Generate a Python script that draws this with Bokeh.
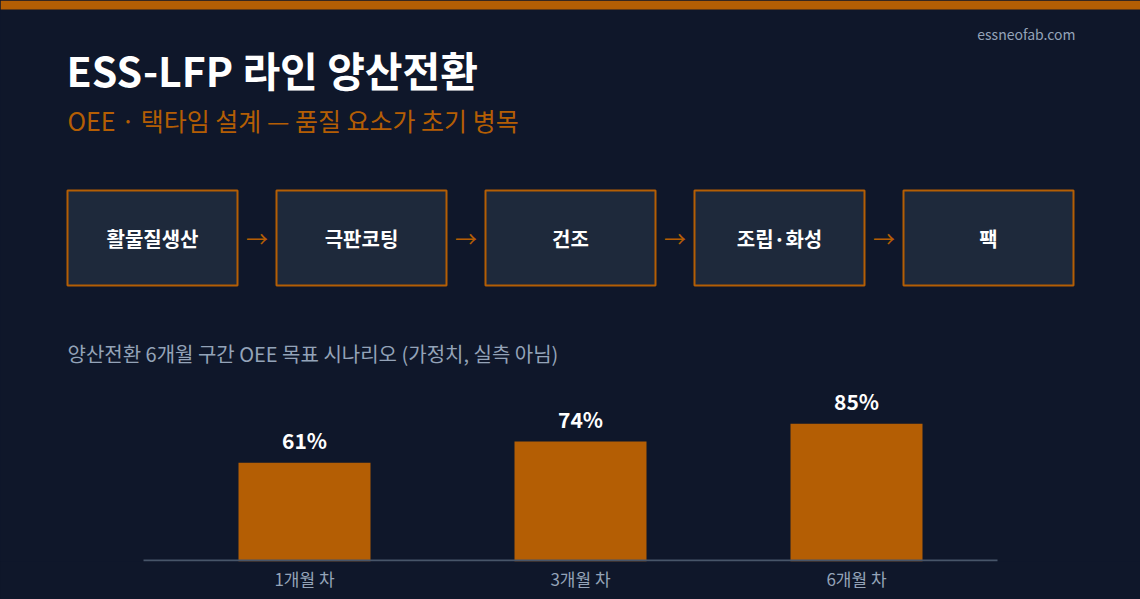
from bokeh.plotting import figure
from bokeh.models import Range1d, LinearAxis, FixedTicker, GlobalInlineStyleSheet
from bokeh.core.properties import value
from bokeh.embed import file_html
from bokeh.resources import INLINE

# ---------------- data ----------------
title = "ESS-LFP 라인 양산전환"
subtitle = "OEE · 택타임 설계 — 품질 요소가 초기 병목"
site = "essneofab.com"
steps = ["활물질생산", "극판코팅", "건조", "조립·화성", "팩"]
chart_caption = "양산전환 6개월 구간 OEE 목표 시나리오 (가정치, 실측 아님)"
periods = ["1개월 차", "3개월 차", "6개월 차"]
oee = [61, 74, 85]

# ---------------- style / layout ----------------
W, H = 1140, 599
BG = "#0f172a"
ORANGE = "#b45e04"
BOX = "#1e293b"
MUTED = "#94a3b8"
AXIS = "#475569"
KR = "Noto Sans CJK KR"

BASE_Y = 561          # pixel row of the zero line
PX_PER = 1.62         # pixels per OEE percent
BAR_X0, BAR_STEP, BAR_W = 304, 276, 132

BOX_X0, BOX_W, BOX_GAP = 67, 170, 39
BOX_TOP, BOX_BOT = 190, 285

p = figure(width=W, height=H, output_backend="svg", toolbar_location=None,
           x_range=Range1d(-BAR_X0 / BAR_STEP, (W - BAR_X0) / BAR_STEP),
           y_range=Range1d(0, BASE_Y / PX_PER),
           x_axis_location=None, y_axis_location=None,
           min_border_left=0, min_border_right=0, min_border_top=0,
           min_border_bottom=H - BASE_Y)
p.extra_x_ranges = {"px": Range1d(0, W)}
p.extra_y_ranges = {"px": Range1d(BASE_Y, 0)}
p.background_fill_color = BG
p.border_fill_color = BG
p.outline_line_color = None
p.grid.visible = False
p.stylesheets = [GlobalInlineStyleSheet(css="html,body{margin:0;padding:0;background:#0f172a;overflow:hidden;}")]

PX = dict(x_range_name="px", y_range_name="px")

# top accent bar
p.quad(left=[0], right=[W], top=[0], bottom=[9], fill_color=ORANGE, line_color=None, **PX)

# header texts
p.text(x=[66], y=[68], text=[title], text_font=value(KR), text_font_size="41px",
       text_font_style="bold", text_color="#ffffff", text_baseline="middle", **PX)
p.text(x=[67], y=[119], text=[subtitle], text_font=value(KR), text_font_size="25px",
       text_color=ORANGE, text_baseline="middle", **PX)
p.text(x=[1075], y=[33], text=[site], text_font=value(KR), text_font_size="14px",
       text_color=MUTED, text_align="right", text_baseline="middle", **PX)

# process flow boxes
lefts = [BOX_X0 + i * (BOX_W + BOX_GAP) for i in range(len(steps))]
rights = [l + BOX_W for l in lefts]
centers = [l + BOX_W / 2 for l in lefts]
p.quad(left=lefts, right=rights, top=[BOX_TOP] * len(steps), bottom=[BOX_BOT] * len(steps),
       fill_color=BOX, line_color=ORANGE, line_width=2, **PX)
p.text(x=centers, y=[(BOX_TOP + BOX_BOT) / 2] * len(steps), text=steps,
       text_font=value(KR), text_font_size="20px", text_font_style="bold",
       text_color="#ffffff", text_align="center", text_baseline="middle", **PX)
arrow_x = [r + BOX_GAP / 2 for r in rights[:-1]]
p.text(x=arrow_x, y=[(BOX_TOP + BOX_BOT) / 2 - 1] * len(arrow_x), text=["→"] * len(arrow_x),
       text_font=value(KR), text_font_size="22px", text_color=ORANGE,
       text_align="center", text_baseline="middle", **PX)

# chart caption
p.text(x=[67], y=[353], text=[chart_caption], text_font=value(KR), text_font_size="20px",
       text_color=MUTED, text_baseline="middle", **PX)

# bars
idx = list(range(len(periods)))
p.vbar(x=idx, top=oee, bottom=0, width=BAR_W / BAR_STEP, fill_color=ORANGE, line_color=None)
p.text(x=idx, y=oee, text=[f"{v}%" for v in oee], text_font=value(KR), text_font_size="21px",
       text_font_style="bold", text_color="#ffffff", text_align="center",
       text_baseline="middle", y_offset=-23)

# baseline
p.segment(x0=[143], x1=[997], y0=[BASE_Y - 1], y1=[BASE_Y - 1], line_color=AXIS, line_width=2, **PX)

# category axis
ax = LinearAxis(ticker=FixedTicker(ticks=idx),
                major_label_overrides={i: s for i, s in zip(idx, periods)})
ax.axis_line_color = None
ax.major_tick_line_color = None
ax.minor_tick_line_color = None
ax.major_tick_in = 0
ax.major_tick_out = 0
ax.major_label_standoff = 4
ax.major_label_text_font = KR
ax.major_label_text_font_size = "17px"
ax.major_label_text_color = MUTED
p.add_layout(ax, "below")

open("out.html", "w").write(file_html(p, INLINE))
